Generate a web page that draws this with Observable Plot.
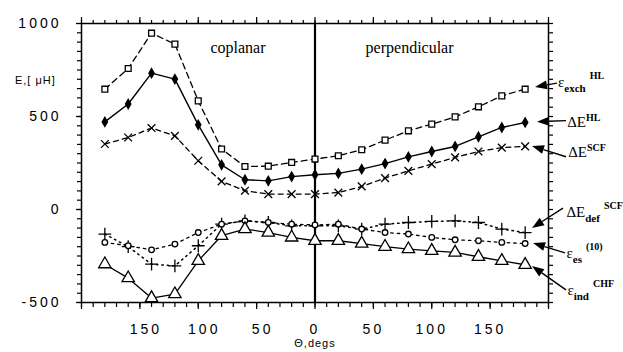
<!DOCTYPE html>
<html><head><meta charset="utf-8">
<script src="https://cdn.jsdelivr.net/npm/d3@7"></script>
<script src="https://cdn.jsdelivr.net/npm/@observablehq/plot@0.6"></script>
<style>
body{margin:0;background:#fff}
#chart svg{display:block}
</style></head><body><div id="chart"></div>
<script>
// angle: negative = coplanar side (θ from 180 to 0), positive = perpendicular side
const angles = [-180,-160,-140,-120,-100,-80,-60,-40,-20,0,20,40,60,80,100,120,140,160,180];
const exchHL = [647,758,948,889,584,325,231,233,253,271,289,321,373,423,459,498,552,611,647];
const dEHL   = [471,567,733,701,455,240,160,154,177,187,194,217,247,283,312,339,391,441,468];
const dESCF  = [352,387,438,396,262,151,101,83,83,83,91,124,169,208,244,280,312,333,339];
const dEdef  = [-132,-200,-294,-303,-195,-79,-61,-70,-88,-88,-88,-105,-79,-70,-64,-61,-70,-105,-124];
const esp10  = [-177,-195,-217,-186,-124,-79,-61,-70,-79,-83,-79,-105,-124,-132,-150,-163,-168,-177,-183];
const indCHF = [-294,-369,-476,-455,-276,-141,-105,-124,-150,-168,-168,-183,-200,-213,-222,-231,-254,-276,-297];

const yTicks = [-500,0,500,1000];
const xTicks = [-150,-100,-50,0,50,100,150];
const regionNames = ["coplanar","perpendicular"];

const series = [
  {values: exchHL, symbol:"square",  fill:"white", r:3.3, dash:"6,4",   sw:1.3},
  {values: dEHL,   symbol:"diamond", fill:"black", r:2.8, dash:null,    sw:1.4},
  {values: dESCF,  symbol:"times",   fill:"none",  r:3.6, dash:"5,4",   sw:1.3},
  {values: dEdef,  symbol:"plus",    fill:"none",  r:4.2, dash:"1.5,4", sw:1.5},
  {values: esp10,  symbol:"circle",  fill:"white", r:2.8, dash:"2.5,4", sw:1.3},
  {values: indCHF, symbol:"triangle",fill:"white", r:4.6, dash:null,    sw:1.3}
];

// curve annotations (data coordinates): label anchor, arrow tail, arrow tip
const annotations = [
  {main:"ε",  sub:"exch", sup:"HL",   lx:208.6, ly:656,  tx:207.7, ty:677, hx:188.9, hy:656},
  {main:"ΔE", sub:null,   sup:"HL",   lx:216.4, ly:441,  tx:215.4, ty:475, hx:190.6, hy:469},
  {main:"ΔE", sub:null,   sup:"SCF",  lx:217.3, ly:280,  tx:215.4, ty:281, hx:186.3, hy:339},
  {main:"ΔE", sub:"def",  sup:"SCF",  lx:215.8, ly:-43,  tx:212.8, ty:5,   hx:186.3, hy:-102},
  {main:"ε",  sub:"es",   sup:"(10)", lx:215.8, ly:-263, tx:214.6, ty:-236,hx:187.2, hy:-183},
  {main:"ε",  sub:"ind",  sup:"CHF",  lx:216.6, ly:-462, tx:215.4, ty:-435,hx:186.3, hy:-306}
];

function curveLabels(index, scales) {
  const g = d3.create("svg:g").attr("font-family","Liberation Serif").attr("fill","black").attr("text-anchor","start");
  for (const a of annotations) {
    const x1 = scales.x(a.tx), y1 = scales.y(a.ty), x2 = scales.x(a.hx), y2 = scales.y(a.hy);
    const ang = Math.atan2(y2 - y1, x2 - x1);
    const L = 12, W = 4.5;
    const bx = x2 - L * Math.cos(ang), by = y2 - L * Math.sin(ang);
    g.append("line").attr("x1", x1).attr("y1", y1).attr("x2", bx).attr("y2", by)
      .attr("stroke","black").attr("stroke-width",1.4);
    g.append("path").attr("d",
      `M${x2},${y2}L${bx - W*Math.sin(ang)},${by + W*Math.cos(ang)}L${bx + W*Math.sin(ang)},${by - W*Math.cos(ang)}Z`)
      .attr("fill","black");
    const t = g.append("text").attr("x", scales.x(a.lx)).attr("y", scales.y(a.ly)).attr("font-size", 15);
    t.append("tspan").text(a.main);
    if (a.sub) t.append("tspan").attr("font-size", 11).attr("font-weight","bold").attr("dy", 5).text(a.sub);
    if (a.sup) t.append("tspan").attr("font-size", 10).attr("font-weight","bold")
      .attr("dy", a.sub ? -13 : -6).attr("dx", a.sub ? 4 : 0).text(a.sup);
  }
  return g.node();
}

const marks = [];
const minorY = d3.range(-500, 1001, 50);
const minorX = d3.range(-200, 201, 10);
const majorX = d3.range(-200, 201, 50);

marks.push(Plot.frame({strokeWidth:1.5}));
marks.push(Plot.ruleX([0], {strokeWidth:2.2}));

// axes
marks.push(Plot.axisY(minorY, {anchor:"left", tickSize:4, tickFormat:()=>"", label:null, strokeWidth:1.2}));
marks.push(Plot.axisY(yTicks, {anchor:"left", tickSize:5, tickPadding:15, tickFormat:d=>String(d), fontSize:14, label:null, strokeWidth:1.2}));
marks.push(Plot.axisY(minorY, {anchor:"right", tickSize:4, tickFormat:()=>"", label:null, strokeWidth:1.2}));
marks.push(Plot.axisX(minorX, {anchor:"top", tickSize:4, tickFormat:()=>"", label:null, strokeWidth:1.2}));
marks.push(Plot.axisX(majorX, {anchor:"top", tickSize:7, tickFormat:()=>"", label:null, strokeWidth:1.2}));
marks.push(Plot.axisX(minorX, {anchor:"bottom", tickSize:5, tickFormat:()=>"", label:null, strokeWidth:1.2}));
marks.push(Plot.axisX(majorX, {anchor:"bottom", tickSize:7, tickFormat:()=>"", label:null, strokeWidth:1.2}));
marks.push(Plot.axisX(xTicks.filter(d => d < 0), {anchor:"bottom", tickSize:0, tickPadding:22, dx:6, tickFormat:d=>String(Math.abs(d)), fontSize:14, label:null}));
marks.push(Plot.axisX(xTicks.filter(d => d >= 0), {anchor:"bottom", tickSize:0, tickPadding:22, tickFormat:d=>String(Math.abs(d)), fontSize:14, label:null}));

// series
for (const s of series) {
  const data = angles.map((a, i) => ({angle: a, value: s.values[i]}));
  marks.push(Plot.line(data, {x:"angle", y:"value", stroke:"black", strokeWidth:s.sw, strokeDasharray:s.dash || undefined}));
  marks.push(Plot.dot(data, {x:"angle", y:"value", symbol:s.symbol, r:s.r, fill:s.fill, stroke:"black", strokeWidth:1.3}));
}

// texts
marks.push(Plot.text([regionNames[0]], {x:-66, y:844, text:d=>d, fontFamily:"Liberation Serif", fontSize:16, lineAnchor:"bottom"}));
marks.push(Plot.text([regionNames[1]], {x:81, y:844, text:d=>d, fontFamily:"Liberation Serif", fontSize:16, lineAnchor:"bottom"}));
marks.push(Plot.text(["E,[ μH]"], {x:-257, y:674, text:d=>d, fontSize:11, textAnchor:"start", lineAnchor:"bottom"}));
marks.push(Plot.text(["Θ,degs"], {x:0, y:-740, text:d=>d, fontSize:11, lineAnchor:"bottom"}));
marks.push(curveLabels);

const chart = Plot.plot({
  width:623, height:352,
  marginLeft:81, marginRight:75, marginTop:23, marginBottom:50,
  x:{domain:[-200,200]},
  y:{domain:[-500,1000]},
  style:{fontFamily:"Liberation Sans", background:"white", color:"black", overflow:"visible"},
  marks
});
d3.select(chart).selectAll('g[aria-label$="tick label"] text').style("letter-spacing","3px");
d3.select(chart).selectAll('text').filter(function(){return this.textContent==="Θ,degs"||this.textContent==="E,[ μH]";}).style("letter-spacing","1px");
document.getElementById("chart").appendChild(chart);
</script></body></html>
